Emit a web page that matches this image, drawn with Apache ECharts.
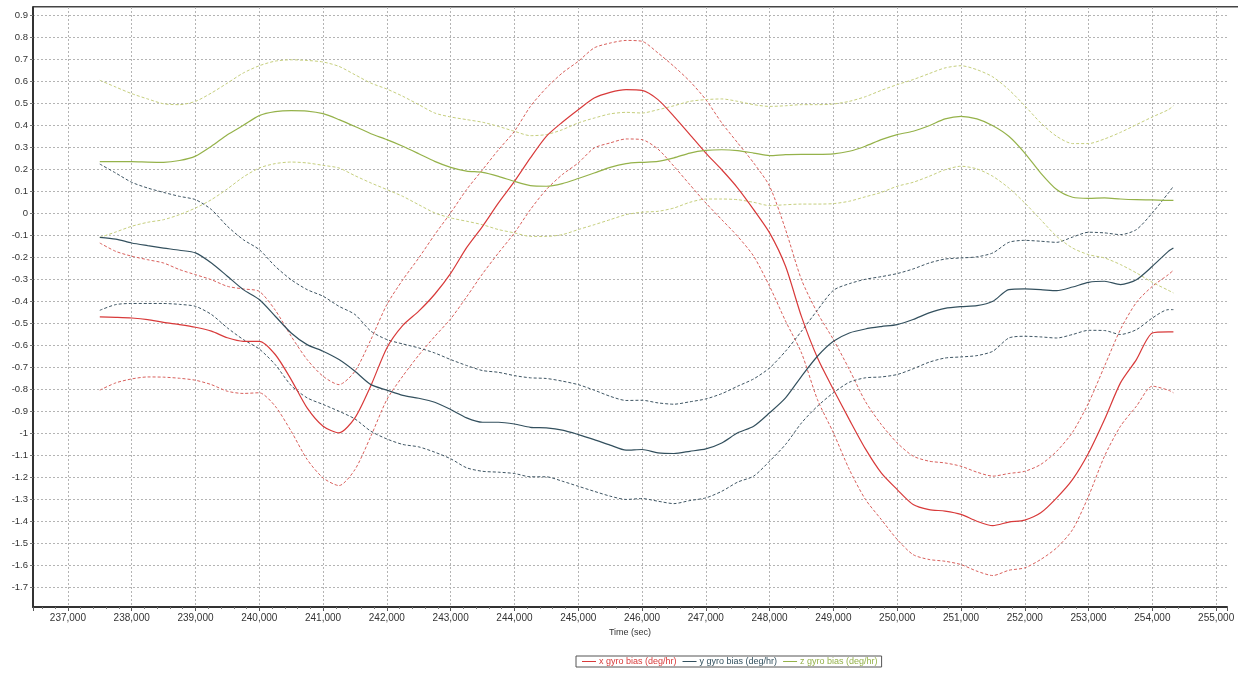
<!DOCTYPE html>
<html>
<head>
<meta charset="utf-8">
<script src="https://cdn.jsdelivr.net/npm/echarts@6/dist/echarts.min.js"></script>
<style>html,body{margin:0;padding:0;background:#fff;}#c{width:1238px;height:676px;}</style>
</head>
<body>
<div id="c"></div>
<script>
// Time (sec)
const times = [237500,237750,238000,238250,238500,238750,239000,239250,239500,239750,
240000,240250,240500,240750,241000,241250,241500,241750,242000,242250,
242500,242750,243000,243250,243500,243750,244000,244250,244500,244750,
245000,245250,245500,245750,246000,246250,246500,246750,247000,247250,
247500,247750,248000,248250,248500,248750,249000,249250,249500,249750,
250000,250250,250500,250750,251000,251250,251500,251750,252000,252250,
252500,252750,253000,253250,253500,253750,254000,254250,254330];

const xBias = [-0.471,-0.473,-0.476,-0.483,-0.496,-0.506,-0.518,-0.536,-0.566,-0.582,
-0.582,-0.642,-0.756,-0.885,-0.968,-0.998,-0.93,-0.783,-0.612,-0.51,
-0.445,-0.368,-0.273,-0.156,-0.059,0.047,0.145,0.252,0.35,0.414,
0.471,0.524,0.55,0.562,0.559,0.517,0.441,0.358,0.274,0.198,
0.115,0.017,-0.089,-0.241,-0.47,-0.657,-0.801,-0.938,-1.07,-1.18,
-1.256,-1.324,-1.347,-1.354,-1.369,-1.4,-1.42,-1.404,-1.395,-1.362,
-1.294,-1.21,-1.09,-0.938,-0.771,-0.665,-0.544,-0.539,-0.539];
const xUpper = [-0.135,-0.173,-0.195,-0.211,-0.226,-0.256,-0.279,-0.302,-0.332,-0.344,
-0.355,-0.44,-0.559,-0.665,-0.741,-0.779,-0.718,-0.574,-0.415,-0.302,
-0.203,-0.097,0.002,0.108,0.198,0.289,0.373,0.486,0.57,0.638,
0.691,0.752,0.774,0.786,0.782,0.729,0.668,0.6,0.517,0.411,
0.32,0.229,0.123,-0.074,-0.302,-0.453,-0.574,-0.71,-0.855,-0.96,
-1.044,-1.104,-1.127,-1.135,-1.15,-1.177,-1.195,-1.183,-1.173,-1.142,
-1.082,-0.995,-0.862,-0.695,-0.528,-0.405,-0.332,-0.279,-0.259];
const xLower = [-0.804,-0.771,-0.753,-0.744,-0.745,-0.75,-0.759,-0.779,-0.809,-0.819,
-0.816,-0.877,-0.991,-1.119,-1.203,-1.238,-1.165,-1.013,-0.847,-0.74,
-0.645,-0.56,-0.48,-0.38,-0.275,-0.18,-0.089,0.017,0.108,0.176,
0.229,0.297,0.32,0.338,0.335,0.292,0.214,0.13,0.047,-0.029,
-0.105,-0.195,-0.332,-0.49,-0.635,-0.847,-0.998,-1.165,-1.3,-1.392,
-1.483,-1.552,-1.574,-1.582,-1.597,-1.627,-1.647,-1.623,-1.612,-1.574,
-1.521,-1.438,-1.286,-1.104,-0.968,-0.877,-0.786,-0.804,-0.816];

const yBias = [-0.109,-0.117,-0.135,-0.147,-0.158,-0.168,-0.18,-0.226,-0.286,-0.347,
-0.392,-0.468,-0.544,-0.597,-0.627,-0.665,-0.718,-0.779,-0.804,-0.828,
-0.841,-0.859,-0.892,-0.93,-0.95,-0.95,-0.958,-0.973,-0.976,-0.986,
-1.006,-1.029,-1.054,-1.077,-1.074,-1.089,-1.092,-1.082,-1.071,-1.044,
-0.998,-0.968,-0.907,-0.839,-0.741,-0.65,-0.582,-0.544,-0.526,-0.515,
-0.506,-0.483,-0.453,-0.432,-0.424,-0.42,-0.4,-0.347,-0.344,-0.347,
-0.352,-0.335,-0.314,-0.309,-0.324,-0.302,-0.241,-0.173,-0.158];
const yUpper = [0.224,0.183,0.141,0.115,0.095,0.077,0.062,0.017,-0.059,-0.12,
-0.165,-0.241,-0.302,-0.347,-0.377,-0.423,-0.46,-0.536,-0.574,-0.594,
-0.612,-0.635,-0.665,-0.692,-0.715,-0.723,-0.738,-0.748,-0.751,-0.763,
-0.779,-0.804,-0.832,-0.851,-0.85,-0.862,-0.868,-0.857,-0.844,-0.82,
-0.786,-0.753,-0.703,-0.627,-0.536,-0.44,-0.35,-0.32,-0.3,-0.288,
-0.274,-0.253,-0.226,-0.208,-0.203,-0.198,-0.18,-0.132,-0.123,-0.127,
-0.132,-0.108,-0.086,-0.089,-0.097,-0.074,0.002,0.092,0.123];
const yLower = [-0.441,-0.415,-0.41,-0.41,-0.41,-0.414,-0.423,-0.46,-0.521,-0.574,
-0.617,-0.688,-0.783,-0.839,-0.869,-0.9,-0.935,-0.991,-1.026,-1.051,
-1.062,-1.086,-1.116,-1.157,-1.173,-1.177,-1.183,-1.198,-1.198,-1.218,
-1.241,-1.264,-1.286,-1.301,-1.297,-1.309,-1.32,-1.306,-1.294,-1.264,
-1.222,-1.195,-1.127,-1.051,-0.953,-0.877,-0.816,-0.768,-0.748,-0.744,
-0.733,-0.707,-0.677,-0.658,-0.653,-0.647,-0.627,-0.567,-0.559,-0.562,
-0.567,-0.551,-0.532,-0.533,-0.551,-0.529,-0.476,-0.438,-0.438];

const zBias = [0.235,0.235,0.235,0.233,0.232,0.24,0.26,0.305,0.357,0.4,
0.444,0.462,0.467,0.465,0.453,0.426,0.395,0.362,0.335,0.305,
0.271,0.236,0.209,0.192,0.186,0.168,0.145,0.126,0.123,0.135,
0.158,0.183,0.209,0.226,0.232,0.236,0.252,0.274,0.286,0.289,
0.285,0.274,0.262,0.267,0.268,0.268,0.27,0.282,0.305,0.335,
0.358,0.373,0.398,0.429,0.441,0.429,0.398,0.35,0.274,0.183,
0.108,0.073,0.068,0.07,0.065,0.062,0.061,0.059,0.059];
const zUpper = [0.605,0.574,0.544,0.52,0.498,0.494,0.509,0.547,0.592,0.638,
0.671,0.692,0.698,0.695,0.688,0.668,0.63,0.592,0.565,0.532,
0.494,0.456,0.438,0.426,0.414,0.395,0.373,0.353,0.358,0.38,
0.411,0.433,0.452,0.459,0.456,0.471,0.489,0.509,0.517,0.52,
0.509,0.494,0.486,0.489,0.494,0.494,0.497,0.509,0.53,0.559,
0.585,0.608,0.635,0.661,0.671,0.653,0.62,0.562,0.489,0.411,
0.35,0.317,0.317,0.338,0.368,0.403,0.438,0.471,0.489];
const zLower = [-0.11,-0.085,-0.059,-0.041,-0.029,-0.006,0.024,0.062,0.111,0.165,
0.206,0.226,0.233,0.229,0.218,0.206,0.171,0.138,0.108,0.077,
0.039,0.002,-0.021,-0.036,-0.052,-0.074,-0.089,-0.105,-0.105,-0.097,
-0.074,-0.052,-0.029,-0.006,0.005,0.009,0.024,0.05,0.065,0.065,
0.062,0.05,0.035,0.039,0.042,0.042,0.044,0.055,0.075,0.095,
0.123,0.141,0.168,0.198,0.214,0.202,0.168,0.115,0.047,-0.029,
-0.105,-0.158,-0.188,-0.203,-0.233,-0.271,-0.314,-0.35,-0.362];

const names = ['x gyro bias (deg/hr)', 'y gyro bias (deg/hr)', 'z gyro bias (deg/hr)'];
const colors = { x: '#d83a3a', xd: '#d9605c', y: '#33505e', yd: '#3e5563', z: '#95b24a', zd: '#c6cf7e' };

const pairs = arr => times.map((t, i) => [t, arr[i]]);
const FONT = '"Liberation Sans", Arial, sans-serif';

function solid(name, arr, color) {
  return { name, type: 'line', data: pairs(arr), showSymbol: false, smooth: 0.25,
    lineStyle: { color, width: 1.2 }, itemStyle: { color }, z: 3 };
}
function dashed(name, arr, color) {
  return { name, type: 'line', data: pairs(arr), showSymbol: false, smooth: 0.25,
    lineStyle: { color, width: 1, type: [3, 2] }, itemStyle: { color }, z: 2 };
}

const chart = echarts.init(document.getElementById('c'), null, { renderer: 'canvas' });
chart.setOption({
  animation: false,
  backgroundColor: '#fff',
  textStyle: { fontFamily: FONT },
  grid: { left: 33, right: 11, top: 7, bottom: 69, containLabel: false },
  xAxis: {
    type: 'value', min: 236453, max: 255170, splitNumber: 18,
    minInterval: 1000, maxInterval: 1000,
    name: 'Time (sec)', nameLocation: 'middle', nameGap: 21,
    nameTextStyle: { fontSize: 9, color: '#333', fontFamily: FONT },
    axisLine: { onZero: false, lineStyle: { color: '#333', width: 2 } },
    axisTick: { show: true, length: 4, lineStyle: { color: '#555' } },
    minorTick: { show: true, splitNumber: 5, length: 2, lineStyle: { color: '#777' } },
    axisLabel: { fontSize: 10, color: '#333', margin: 6, showMinLabel: false, showMaxLabel: false,
      formatter: v => Math.round(v).toLocaleString('en-US') },
    splitLine: { show: true, showMinLine: false, showMaxLine: false,
      lineStyle: { color: '#b4b4b4', type: [2, 2], width: 1 } }
  },
  yAxis: {
    type: 'value', min: -1.79, max: 0.938, splitNumber: 27,
    minInterval: 0.1, maxInterval: 0.1,
    axisLine: { show: true, onZero: false, lineStyle: { color: '#333', width: 2 } },
    axisTick: { show: true, length: 3, lineStyle: { color: '#777' } },
    axisLabel: { fontSize: 9.5, color: '#333', margin: 5, showMinLabel: false, showMaxLabel: false,
      formatter: v => String(+(+v).toFixed(1)) },
    splitLine: { show: true, showMinLine: false, showMaxLine: false,
      lineStyle: { color: '#b4b4b4', type: [2, 2], width: 1 } }
  },
  legend: {
    left: 576, top: 656,
    orient: 'horizontal',
    data: [
      { name: names[0], textStyle: { color: colors.x } },
      { name: names[1], textStyle: { color: colors.y } },
      { name: names[2], textStyle: { color: colors.z } }
    ],
    icon: 'rect', itemWidth: 14, itemHeight: 1, itemGap: 6,
    textStyle: { fontSize: 9, fontFamily: FONT, padding: [0, 0, 0, -2] },
    borderColor: '#555', borderWidth: 1, padding: [1, 4, 1, 6], backgroundColor: '#fff'
  },
  graphic: [
    { type: 'rect', shape: { x: 33, y: 6, width: 1205, height: 1.5 }, style: { fill: '#444' }, silent: true }
  ],
  series: [
    solid(names[0], xBias, colors.x),
    dashed(names[0], xUpper, colors.xd),
    dashed(names[0], xLower, colors.xd),
    solid(names[1], yBias, colors.y),
    dashed(names[1], yUpper, colors.yd),
    dashed(names[1], yLower, colors.yd),
    solid(names[2], zBias, colors.z),
    dashed(names[2], zUpper, colors.zd),
    dashed(names[2], zLower, colors.zd)
  ]
});
</script>
</body>
</html>
